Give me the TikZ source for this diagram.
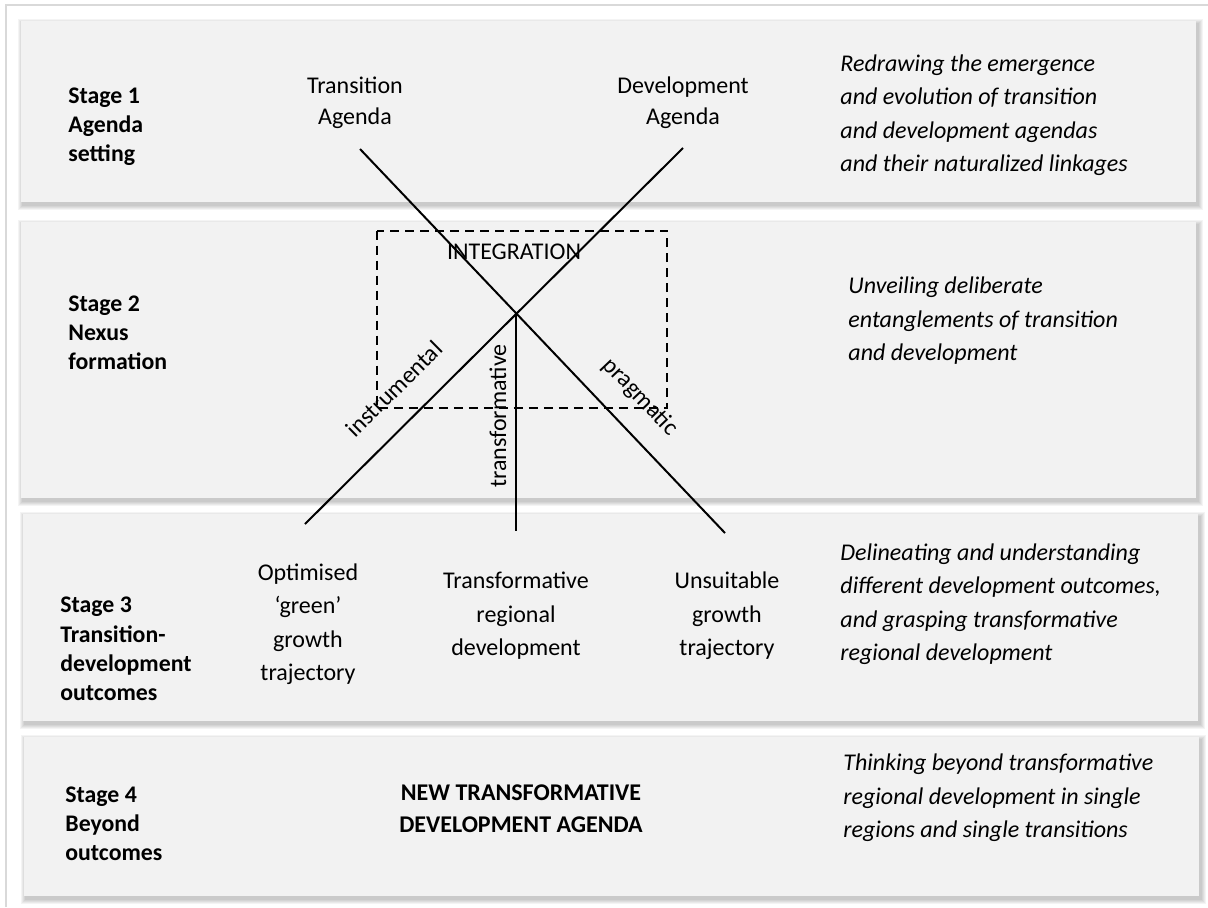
\documentclass[tikz,border=0pt]{standalone}
\usepackage{fontspec}
\setmainfont{Carlito}
\definecolor{panelgray}{HTML}{F2F2F2}
\definecolor{framegray}{HTML}{D9D9D9}

% soft drop shadow + filled panel: #1,#2 top-left corner, #3,#4 bottom-right corner
\newcommand\drawpanel[4]{%
  \foreach \k in {1,2,3,4,5}{%
    \fill[black, opacity=0.045]
      (#1+2-\k, #2+3-\k) rectangle (#3+2+\k, #4+3+\k);
  }
  \fill[panelgray] (#1,#2) rectangle (#3,#4);
}

\tikzset{
  basefont/.style={font=\fontsize{12}{16.75}\selectfont},
  stagelbl/.style={anchor=west, align=left, inner sep=0pt,
    font=\bfseries\fontsize{11.9}{14.6}\selectfont},
  desc/.style={anchor=west, align=left, inner sep=0pt,
    font=\itshape\fontsize{12}{16.75}\selectfont},
  outcome/.style={align=center, inner sep=0pt, basefont},
  agenda/.style={align=center, inner sep=0pt,
    font=\fontsize{12}{15.5}\selectfont},
  armlbl/.style={inner sep=0pt, basefont},
  arm/.style={line width=1pt, black},
  nexusbox/.style={line width=1pt, dash pattern=on 4.5pt off 3pt},
}

\begin{document}
\begin{tikzpicture}[x=0.5pt, y=-0.5pt]
  \useasboundingbox (0,0) rectangle (1208,907);
  \fill[white] (0,0) rectangle (1208,907);

  % outer frame (top and left edges)
  \draw[framegray, line width=1.2pt] (6,907) -- (6,5) -- (1208,5);

  % stage panels
  \drawpanel{21}{21}{1196}{202}
  \drawpanel{21}{222}{1196}{498}
  \drawpanel{23}{514}{1198}{721}
  \drawpanel{24}{737}{1199}{896}

  % stage labels
  \node[stagelbl] (s1) at (68,127) {Stage 1\\Agenda\\setting};
  \node[stagelbl] (s2) at (68,333) {Stage 2\\Nexus\\formation};
  \node[stagelbl] (s3) at (60,649) {Stage 3\\Transition-\\development\\outcomes};
  \node[stagelbl] (s4) at (65,824) {Stage 4\\Beyond\\outcomes};

  % descriptions
  \node[desc] (d1) at (840,115) {Redrawing the emergence\\and evolution of transition\\and development agendas\\and their naturalized linkages};
  \node[desc] (d2) at (848,321) {Unveiling deliberate\\entanglements of transition\\and development};
  \node[desc] (d3) at (840,604) {Delineating and understanding\\different development outcomes,\\and grasping transformative\\regional development};
  \node[desc] (d4) at (843,798) {Thinking beyond transformative\\regional development in single\\regions and single transitions};

  % agendas
  \node[agenda] (ta) at (355,103) {Transition\\Agenda};
  \node[agenda] (da) at (683,103) {Development\\Agenda};

  % integration zone
  \node[draw=none, minimum width=290*0.5pt, minimum height=177*0.5pt, inner sep=0pt] (nexus) at (522,319.5) {};
  \draw[nexusbox] (nexus.north west) rectangle (nexus.south east);
  \node[armlbl] (integ) at (514,252) {INTEGRATION};

  % arms of the cross
  \coordinate (taEnd) at (360,149);
  \coordinate (daEnd) at (683,148);
  \coordinate (hub) at (516,313);
  \coordinate (optEnd) at (305,524);
  \coordinate (trEnd) at (516,531);
  \coordinate (unEnd) at (725,533);

  \draw[arm] (taEnd) -- (unEnd);
  \draw[arm] (daEnd) -- (optEnd);
  \draw[arm] (hub) -- (trEnd);

  % arm labels
  \node[armlbl, rotate=44.7] (instr) at (394,389) {instrumental};
  \node[armlbl, rotate=90] (transf) at (498,416) {transformative};
  \node[armlbl, rotate=-46.4] (pragm) at (640,397) {pragmatic};

  % outcomes
  \node[outcome] (opt) at (308,624) {Optimised\\‘green’\\growth\\trajectory};
  \node[outcome] (trd) at (516,616) {Transformative\\regional\\development};
  \node[outcome] (uns) at (727,616) {Unsuitable\\growth\\trajectory};

  % stage 4 agenda
  \node[align=center, inner sep=0pt, font=\bfseries\fontsize{12}{16}\selectfont] (newag) at (521,809) {NEW TRANSFORMATIVE\\DEVELOPMENT AGENDA};
\end{tikzpicture}
\end{document}
